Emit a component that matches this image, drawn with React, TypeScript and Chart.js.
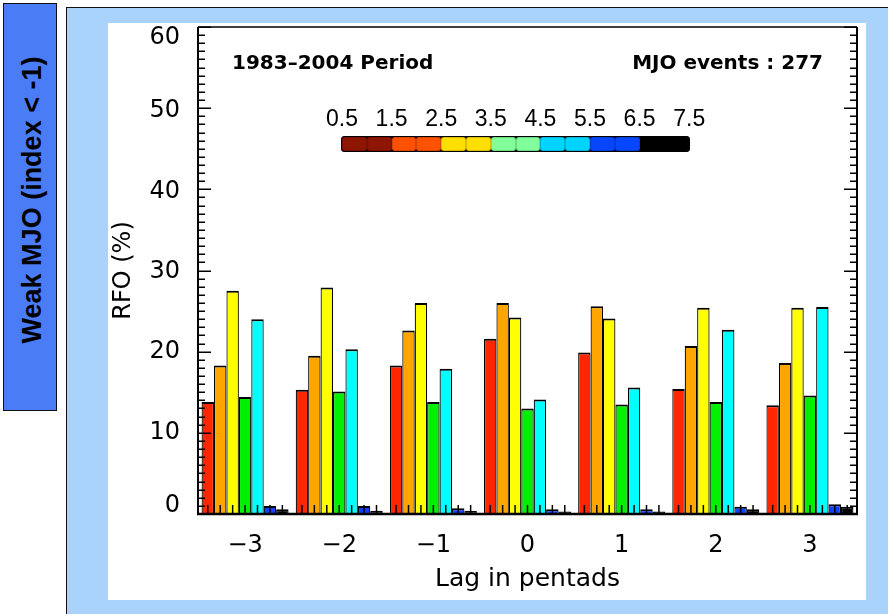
import React, { useEffect, useRef } from "react";
import { Chart, registerables } from "chart.js";

Chart.register(...registerables);

// Lag (pentads) relative to the MJO event
const lags = [-3, -2, -1, 0, 1, 2, 3];

// Relative frequency of occurrence (%) per regime class at each lag
const class1 = [13.8, 15.3, 18.3, 21.6, 19.9, 15.4, 13.4];
const class2 = [18.3, 19.5, 22.6, 26.0, 25.6, 20.7, 18.6];
const class3 = [27.5, 27.9, 26.0, 24.2, 24.1, 25.4, 25.4];
const class4 = [14.4, 15.1, 13.8, 13.0, 13.5, 13.8, 14.6];
const class5 = [24.0, 20.3, 17.9, 14.1, 15.6, 22.7, 25.5];
const class6 = [1.0, 1.0, 0.7, 0.6, 0.6, 0.9, 1.2];
const class7 = [0.6, 0.4, 0.4, 0.3, 0.3, 0.6, 0.9];

const series = [class1, class2, class3, class4, class5, class6, class7];
const seriesNames = ["1", "2", "3", "4", "5", "6", "7"];
const barColors = ["#ff2600", "#ffa500", "#ffff00", "#00f000", "#00ffff", "#1040ff", "#000000"];

// Colour-bar key
const keyLabels = ["0.5", "1.5", "2.5", "3.5", "4.5", "5.5", "6.5", "7.5"];
const keyColors = ["#8e1500", "#ff5200", "#ffde00", "#80ff9a", "#00d4ff", "#0646ff", "#000000"];

const yTickLabels = ["0", "10", "20", "30", "40", "50", "60"];

const SANS = "'DejaVu Sans', sans-serif";

// end labels of the value axis sit slightly inside the frame
const yLabelNudge: Record<string, number> = { "0": -8, "30": 1, "40": 2, "50": 3, "60": 11 };

const framePlugin = {
  id: "frameAndTicks",
  beforeDraw(chart: any) {
    const yScale = chart.scales.y;
    const items = yScale.getLabelItems(chart.chartArea);
    if (items && !(items as any)._nudged) {
      items.forEach((it: any) => {
        const d = yLabelNudge[String(it.label)] || 0;
        if (it.options && it.options.translation) it.options.translation[1] += d;
      });
      (items as any)._nudged = true;
    }
  },
  afterDatasetsDraw(chart: any) {
    const { ctx, chartArea } = chart;
    const { left, right, top, bottom } = chartArea;
    const yScale = chart.scales.y;
    ctx.save();
    ctx.strokeStyle = "#000";
    ctx.lineCap = "butt";

    // inward ticks on both vertical axes
    ctx.lineWidth = 1.5;
    for (let v = 0; v <= 60; v++) {
      const y = Math.round(yScale.getPixelForValue(v)) + 0.25;
      const len = v % 10 === 0 ? 13 : 7;
      ctx.beginPath();
      ctx.moveTo(left, y);
      ctx.lineTo(left + len, y);
      ctx.moveTo(right, y);
      ctx.lineTo(right - len, y);
      ctx.stroke();
    }

    // short ticks at each bar centre
    ctx.lineWidth = 1.5;
    chart.data.datasets.forEach((_: any, i: number) => {
      const meta = chart.getDatasetMeta(i);
      meta.data.forEach((el: any) => {
        ctx.beginPath();
        ctx.moveTo(el.x, bottom);
        ctx.lineTo(el.x, bottom - 9);
        ctx.stroke();
      });
    });

    // plot frame
    ctx.lineWidth = 1.5;
    ctx.beginPath();
    ctx.moveTo(left, top);
    ctx.lineTo(right, top);
    ctx.stroke();
    ctx.lineWidth = 2;
    ctx.beginPath();
    ctx.moveTo(left, top);
    ctx.lineTo(left, bottom);
    ctx.moveTo(right, top);
    ctx.lineTo(right, bottom);
    ctx.stroke();
    ctx.lineWidth = 2.5;
    ctx.beginPath();
    ctx.moveTo(left - 1, bottom);
    ctx.lineTo(right + 1, bottom);
    ctx.stroke();
    ctx.restore();
  },
};

function RfoChart() {
  const canvasRef = useRef<HTMLCanvasElement | null>(null);

  useEffect(() => {
    const canvas = canvasRef.current;
    if (!canvas) return;
    const chart = new Chart(canvas, {
      type: "bar",
      data: {
        labels: lags.map((l) => String(l).replace("-", "\u2212")),
        datasets: series.map((data, i) => ({
          label: seriesNames[i],
          data,
          backgroundColor: barColors[i],
          borderColor: "#000",
          borderWidth: { top: 2, left: 1.2, right: 1.2, bottom: 0 },
          borderSkipped: "start",
          barPercentage: 1,
          categoryPercentage: 0.924,
        })),
      },
      options: {
        animation: false,
        responsive: false,
        maintainAspectRatio: false,
        layout: { padding: { left: 0, right: 9, top: 4, bottom: 0 } },
        plugins: {
          legend: { display: false },
          tooltip: { enabled: false },
        },
        scales: {
          x: {
            grid: { display: false },
            border: { display: false },
            ticks: {
              color: "#000",
              font: { family: SANS, size: 24 },
              padding: 9,
              maxRotation: 0,
              autoSkip: false,
            },
            title: {
              display: true,
              text: "Lag in pentads",
              color: "#000",
              font: { family: SANS, size: 25 },
              padding: { top: 0, bottom: 6 },
            },
            afterFit: (s: any) => {
              s.height = 86;
              s.paddingLeft = 0;
              s.paddingRight = 0;
            },
          },
          y: {
            min: 0,
            max: 60,
            grid: { display: false },
            border: { display: false },
            ticks: {
              stepSize: 10,
              color: "#000",
              font: { family: SANS, size: 24 },
              padding: 10,
              callback: (v: any) => yTickLabels[Math.round(Number(v) / 10)] ?? "",
            },
            title: {
              display: true,
              text: "RFO (%)",
              color: "#000",
              font: { family: SANS, size: 24 },
              padding: { top: 1, bottom: 0 },
            },
            afterFit: (s: any) => {
              s.width = 90;
              s.paddingTop = 0;
              s.paddingBottom = 0;
            },
          },
        },
      } as any,
      plugins: [framePlugin],
    });
    return () => chart.destroy();
  }, []);

  return <canvas ref={canvasRef} width={758} height={577} style={{ display: "block" }} />;
}

export default function App() {
  useEffect(() => {
    document.body.style.margin = "0";
  }, []);

  const abs: React.CSSProperties = { position: "absolute" };

  return (
    <div style={{ position: "fixed", left: 0, top: 0, width: 888, height: 614, overflow: "hidden", background: "#fff" }}>
      {/* side label */}
      <div
        style={{
          ...abs,
          left: 3,
          top: 3,
          width: 54,
          height: 408,
          boxSizing: "border-box",
          background: "#4a7cf5",
          border: "1.5px solid #111",
        }}
      >
        <div
          style={{
            ...abs,
            left: 28,
            top: 196,
            transform: "translate(-50%, -50%) rotate(-90deg)",
            whiteSpace: "nowrap",
            fontFamily: "'Liberation Sans', Arial, sans-serif",
            fontWeight: "bold",
            fontSize: 27,
            lineHeight: "27px",
            color: "#000",
          }}
        >
          Weak MJO (index &lt; -1)
        </div>
      </div>

      {/* light blue panel */}
      <div
        style={{
          ...abs,
          left: 66,
          top: 7,
          width: 840,
          height: 620,
          boxSizing: "border-box",
          background: "#a9d3fb",
          borderLeft: "1.5px solid #111",
          borderTop: "1.5px solid #111",
        }}
      />

      {/* white plot panel */}
      <div style={{ ...abs, left: 108, top: 23, width: 758, height: 577, background: "#fff" }}>
        <RfoChart />
      </div>

      {/* annotations */}
      <div
        style={{
          ...abs,
          left: 232,
          top: 52,
          fontFamily: SANS,
          fontWeight: "bold",
          fontSize: 20,
          lineHeight: "20px",
          whiteSpace: "nowrap",
          color: "#000",
        }}
      >
        1983–2004 Period
      </div>
      <div
        style={{
          ...abs,
          right: 888 - 823,
          top: 52,
          fontFamily: SANS,
          fontWeight: "bold",
          fontSize: 20,
          lineHeight: "20px",
          whiteSpace: "nowrap",
          color: "#000",
        }}
      >
        MJO events : 277
      </div>

      {/* colour key labels */}
      {keyLabels.map((t, i) => (
        <div
          key={t}
          style={{
            ...abs,
            left: 342 + i * 49.6,
            top: 107,
            transform: "translateX(-50%)",
            fontFamily: "'Liberation Sans', Arial, sans-serif",
            fontSize: 23,
            lineHeight: "23px",
            color: "#000",
            whiteSpace: "nowrap",
          }}
        >
          {t}
        </div>
      ))}

      {/* colour key bar */}
      <div
        style={{
          ...abs,
          left: 341,
          top: 136,
          width: 349,
          height: 16,
          boxSizing: "border-box",
          border: "1.5px solid #000",
          borderRadius: 3,
          background: "#000",
          display: "flex",
          overflow: "hidden",
        }}
      >
        {keyColors.map((c, i) =>
          i < keyColors.length - 1 ? (
            <div key={c} style={{ width: 49.6, display: "flex", height: "100%" }}>
              <div style={{ flex: 1, background: c, borderRadius: 3, border: "0.5px solid rgba(0,0,0,0.15)" }} />
              <div style={{ flex: 1, background: c, borderRadius: 3, border: "0.5px solid rgba(0,0,0,0.15)" }} />
            </div>
          ) : (
            <div key={c} style={{ flex: 1, background: c }} />
          )
        )}
      </div>
    </div>
  );
}
